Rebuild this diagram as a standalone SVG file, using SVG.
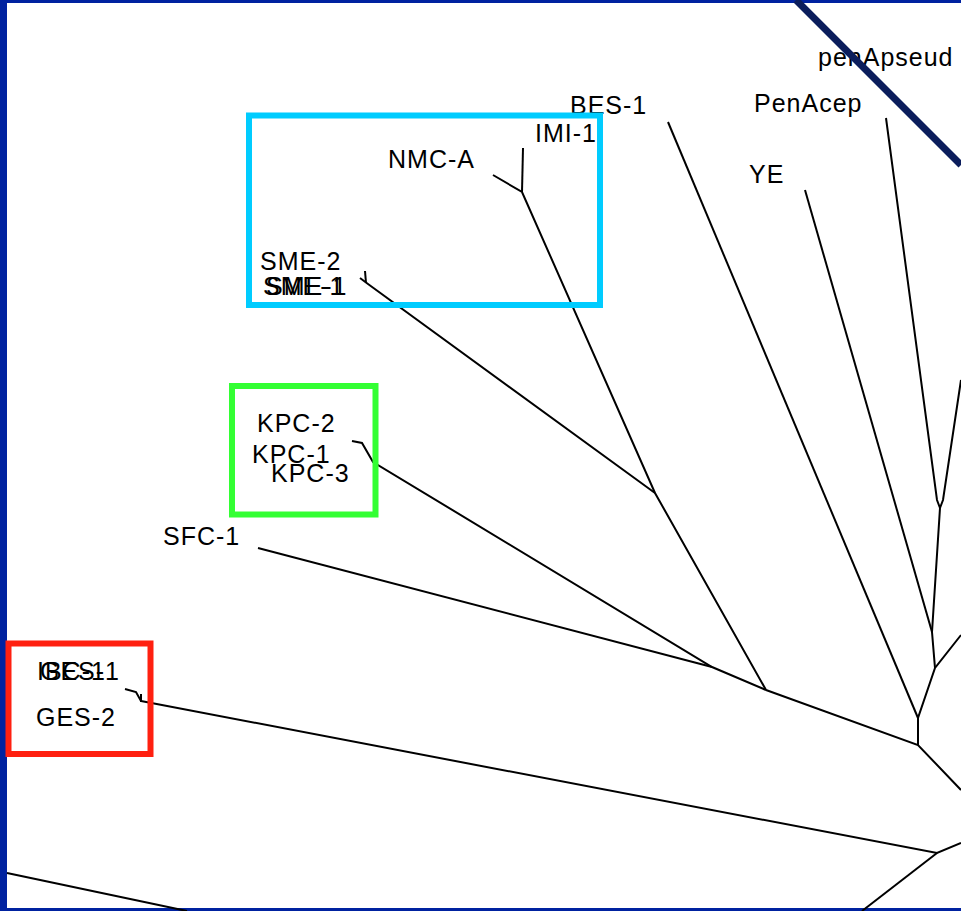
<svg xmlns="http://www.w3.org/2000/svg" width="961" height="911" viewBox="0 0 961 911">
<style>
.lbl{font-family:"Liberation Sans",Arial,sans-serif;font-size:25px;letter-spacing:1px;fill:#000}
.br{fill:none;stroke:#000;stroke-width:2;stroke-linejoin:miter;stroke-linecap:butt}
.box{fill:none;stroke-width:6}
</style>
<rect x="0" y="0" width="961" height="911" fill="#fff"/>
<g id="frame">
<rect x="0" y="0" width="7" height="911" fill="#0022a0"/>
<rect x="0" y="0" width="961" height="3" fill="#0022a0"/>
<rect x="0" y="908" width="961" height="3" fill="#0022a0"/>
</g>
<g id="connectors">
<polyline class="br" points="886,118 937,500 940,508"/>
<polyline class="br" points="961,380 943,500 940,508 932,632 935,668"/>
<line class="br" x1="805" y1="190" x2="932" y2="632"/>
<polyline class="br" points="961,635 935,668 918,718 918,745"/>
<line class="br" x1="668" y1="122" x2="918" y2="718"/>
<polyline class="br" points="766,690 918,745 961,790"/>
<polyline class="br" points="523,148 522,192"/>
<polyline class="br" points="493,175 522,192 655,493 766,690"/>
<polyline class="br" points="365,271 366,283"/>
<polyline class="br" points="360,278 368,284 655,493"/>
<polyline class="br" points="352,441 362,443 373,462 712,667 766,690"/>
<line class="br" x1="258" y1="548" x2="712" y2="667"/>
<polyline class="br" points="125,689 136,692 141,701"/>
<line class="br" x1="141" y1="694" x2="141" y2="702"/>
<polyline class="br" points="141,701 937,853 961,843"/>
<line class="br" x1="937" y1="853" x2="862" y2="911"/>
<line class="br" x1="7" y1="873" x2="187" y2="911"/>
</g>
<g id="n-penApseud"><text class="lbl" x="818" y="66">penApseud</text></g>
<g id="n-PenAcep"><text class="lbl" x="754" y="112">PenAcep</text></g>
<g id="n-YE"><text class="lbl" x="749" y="183">YE</text></g>
<g id="n-BES-1"><text class="lbl" x="570" y="114">BES-1</text></g>
<g id="n-IMI-1"><text class="lbl" x="535" y="142">IMI-1</text></g>
<g id="n-NMC-A"><text class="lbl" x="388" y="168">NMC-A</text></g>
<g id="n-SME-2"><text class="lbl" x="260" y="270">SME-2</text></g>
<g id="n-SME-1"><text class="lbl" x="263" y="295">SME-1</text><text class="lbl" x="266" y="295">SME-1</text></g>
<g id="n-KPC-2"><text class="lbl" x="257" y="432">KPC-2</text></g>
<g id="n-KPC-1"><text class="lbl" x="252" y="463">KPC-1</text></g>
<g id="n-KPC-3"><text class="lbl" x="271" y="482">KPC-3</text></g>
<g id="n-SFC-1"><text class="lbl" x="163" y="545">SFC-1</text></g>
<g id="n-GES-1"><text class="lbl" x="40" y="680">GES-1</text><text class="lbl" x="37" y="680">IBC-1</text></g>
<g id="n-GES-2"><text class="lbl" x="36" y="726">GES-2</text></g>
<g id="highlights">
<rect class="box" x="249" y="115.5" width="351" height="189.5" stroke="#00ccff"/>
<rect class="box" x="232" y="386" width="143.5" height="128.5" stroke="#33ff33"/>
<rect class="box" x="8.5" y="643.5" width="142" height="110.5" stroke="#ff2010"/>
</g>
<line id="diagonal" x1="796" y1="0" x2="961" y2="165" stroke="#0b1d5c" stroke-width="7"/>
</svg>
